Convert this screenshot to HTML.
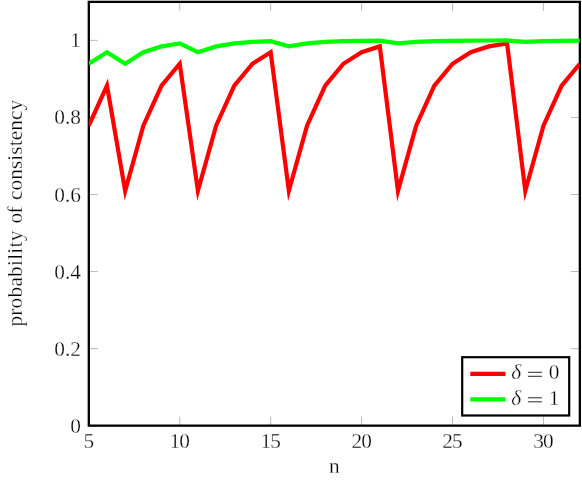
<!DOCTYPE html>
<html><head><meta charset="utf-8"><title>plot</title>
<style>
html,body{margin:0;padding:0;background:#fff;}
body{width:582px;height:481px;overflow:hidden;}
svg{display:block;will-change:transform;}
text{font-family:"Liberation Serif",serif;font-size:21.3px;fill:#000;stroke:#fff;stroke-width:0.3px;}
</style></head><body>
<svg width="582" height="481" viewBox="0 0 582 481">
<rect x="0" y="0" width="582" height="481" fill="#fff"/>
<defs><clipPath id="c"><rect x="88.80" y="1.88" width="491.05" height="423.77"/></clipPath></defs>
<g stroke="#808080" stroke-width="0.55" fill="none"><line x1="88.80" y1="425.65" x2="88.80" y2="416.65"/><line x1="88.80" y1="1.88" x2="88.80" y2="10.88"/><line x1="179.74" y1="425.65" x2="179.74" y2="416.65"/><line x1="179.74" y1="1.88" x2="179.74" y2="10.88"/><line x1="270.67" y1="425.65" x2="270.67" y2="416.65"/><line x1="270.67" y1="1.88" x2="270.67" y2="10.88"/><line x1="361.61" y1="425.65" x2="361.61" y2="416.65"/><line x1="361.61" y1="1.88" x2="361.61" y2="10.88"/><line x1="452.54" y1="425.65" x2="452.54" y2="416.65"/><line x1="452.54" y1="1.88" x2="452.54" y2="10.88"/><line x1="543.48" y1="425.65" x2="543.48" y2="416.65"/><line x1="543.48" y1="1.88" x2="543.48" y2="10.88"/><line x1="88.80" y1="425.65" x2="97.80" y2="425.65"/><line x1="579.85" y1="425.65" x2="570.85" y2="425.65"/><line x1="88.80" y1="348.60" x2="97.80" y2="348.60"/><line x1="579.85" y1="348.60" x2="570.85" y2="348.60"/><line x1="88.80" y1="271.55" x2="97.80" y2="271.55"/><line x1="579.85" y1="271.55" x2="570.85" y2="271.55"/><line x1="88.80" y1="194.50" x2="97.80" y2="194.50"/><line x1="579.85" y1="194.50" x2="570.85" y2="194.50"/><line x1="88.80" y1="117.45" x2="97.80" y2="117.45"/><line x1="579.85" y1="117.45" x2="570.85" y2="117.45"/><line x1="88.80" y1="40.40" x2="97.80" y2="40.40"/><line x1="579.85" y1="40.40" x2="570.85" y2="40.40"/></g>
<rect x="88.80" y="1.88" width="491.05" height="423.77" fill="none" stroke="#000" stroke-width="2.3"/>
<g clip-path="url(#c)" fill="none" stroke-width="4.2" stroke-linejoin="miter" stroke-miterlimit="10">
<polyline stroke="#ff0000" points="88.80,125.62 106.99,85.67 125.17,190.88 143.36,125.62 161.55,85.67 179.74,63.75 197.92,190.88 216.11,125.62 234.30,85.67 252.48,63.75 270.67,52.26 288.86,190.88 307.04,125.62 325.23,85.67 343.42,63.75 361.61,52.26 379.79,46.38 397.98,190.88 416.17,125.62 434.35,85.67 452.54,63.75 470.73,52.26 488.91,46.38 507.10,43.40 525.29,190.88 543.48,125.62 561.66,85.67 579.85,63.75"/>
<polyline stroke="#00ff00" points="88.80,63.75 106.99,52.26 125.17,63.75 143.36,52.26 161.55,46.38 179.74,43.40 197.92,52.26 216.11,46.38 234.30,43.40 252.48,41.91 270.67,41.16 288.86,46.38 307.04,43.40 325.23,41.91 343.42,41.16 361.61,40.78 379.79,40.59 397.98,43.40 416.17,41.91 434.35,41.16 452.54,40.78 470.73,40.59 488.91,40.50 507.10,40.45 525.29,41.91 543.48,41.16 561.66,40.78 579.85,40.59"/>
</g>
<g><text x="88.80" y="447.90" text-anchor="middle">5</text><text x="179.74" y="447.90" text-anchor="middle" textLength="20.4" lengthAdjust="spacing">10</text><text x="270.67" y="447.90" text-anchor="middle" textLength="20.4" lengthAdjust="spacing">15</text><text x="361.61" y="447.90" text-anchor="middle" textLength="20.4" lengthAdjust="spacing">20</text><text x="452.54" y="447.90" text-anchor="middle" textLength="20.4" lengthAdjust="spacing">25</text><text x="543.48" y="447.90" text-anchor="middle" textLength="20.4" lengthAdjust="spacing">30</text></g>
<g><text x="80.90" y="432.65" text-anchor="end">0</text><text x="80.90" y="355.60" text-anchor="end">0.2</text><text x="80.90" y="278.55" text-anchor="end">0.4</text><text x="80.90" y="201.50" text-anchor="end">0.6</text><text x="80.90" y="124.45" text-anchor="end">0.8</text><text x="80.90" y="47.40" text-anchor="end">1</text></g>
<text x="334.4" y="473.1" text-anchor="middle">n</text>
<g transform="translate(21.6,0)">
<text transform="translate(0,326.6) rotate(-90)" textLength="95.9" lengthAdjust="spacing">probability</text>
<text transform="translate(0,223.4) rotate(-90)" textLength="17.0" lengthAdjust="spacing">of</text>
<text transform="translate(0,200.1) rotate(-90)" textLength="100.2" lengthAdjust="spacing">consistency</text>
</g>
<g>
<rect x="462.2" y="357.2" width="107.0" height="58.3" fill="#fff" stroke="#000" stroke-width="2.2"/>
<line x1="470.3" y1="373.9" x2="505.5" y2="373.9" stroke="#ff0000" stroke-width="4.2"/>
<line x1="470.3" y1="399.45" x2="505.5" y2="399.45" stroke="#00ff00" stroke-width="4.2"/>
<text x="511.2" y="379.2" font-style="italic">δ</text>
<text x="511.2" y="404.7" font-style="italic">δ</text>
<g stroke="#000" stroke-width="0.85"><line x1="527.9" y1="372.3" x2="541.9" y2="372.3"/><line x1="527.9" y1="376.3" x2="541.9" y2="376.3"/>
<line x1="527.9" y1="397.8" x2="541.9" y2="397.8"/><line x1="527.9" y1="401.8" x2="541.9" y2="401.8"/></g>
<text x="554" y="379.2" text-anchor="middle">0</text>
<text x="554" y="404.7" text-anchor="middle">1</text>
</g>
</svg>
</body></html>
